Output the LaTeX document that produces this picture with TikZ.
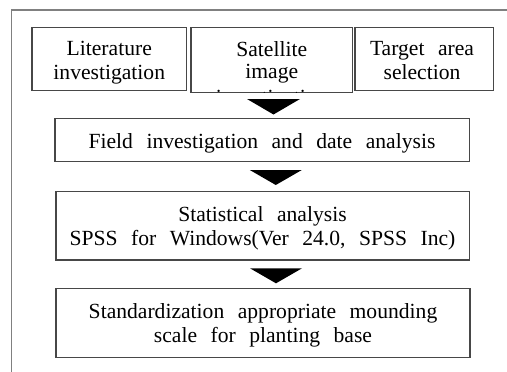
\documentclass[tikz,border=0pt]{standalone}
\usepackage{fontspec}
\setmainfont[WordSpace=2.5]{Liberation Serif}
\usetikzlibrary{calc}
\tikzset{
  box/.style={draw=black!72, line width=1.1pt, fill=white, inner sep=0pt},
  txt/.style={inner sep=0pt, anchor=base, font=\fontsize{21.6pt}{24pt}\selectfont},
  frameline/.style={draw=black!50, line width=1.2pt},
  tri/.style={fill=black}
}
\begin{document}
\begin{tikzpicture}[x=1pt, y=-1pt]
\useasboundingbox (0,0) rectangle (507,372);
\fill[white] (0,0) rectangle (507,372);
% outer frame (only top and left edges visible)
\coordinate (fbl) at (11.5,380);
\coordinate (ftl) at (11.5,10);
\coordinate (ftr) at (520,10);
\draw[frameline] (fbl) -- (ftl) -- (ftr);

% boxes
\node[box, minimum width=154.5pt, minimum height=63pt] (b1) at (109.25,59.2) {};
\node[box, minimum width=161.5pt, minimum height=65pt] (b2) at (271.75,60) {};
\node[box, minimum width=138.3pt, minimum height=63pt] (b3) at (424.15,59.2) {};
\node[box, minimum width=414.3pt, minimum height=43.4pt] (b4) at (262.15,140) {};
\node[box, minimum width=413.3pt, minimum height=68.3pt] (b5) at (262.65,225.85) {};
\node[box, minimum width=414pt, minimum height=69.2pt] (b6) at (263,322.9) {};

% texts
\node[txt] (t1a) at (109.25,55.7) {Literature};
\node[txt] (t1b) at (109.25,79) {investigation};
\begin{scope}
  \clip ($(b2.south west)+(0.6,-0.6)$) rectangle ($(b2.north east)+(-0.6,0.6)$);
  \node[txt] (t2a) at (271.75,56.7) {Satellite};
  \node[txt] (t2b) at (271.75,78.5) {image};
  \node[txt] (t2c) at (271.75,104.5) {investigation};
\end{scope}
\node[txt] (t3a) at (422,55.7) {Target area};
\node[txt] (t3b) at (422,79) {selection};
\node[txt] (t4) at (262,148.3) {Field investigation and date analysis};
\node[txt] (t5a) at (262.5,221) {Statistical analysis};
\node[txt] (t5b) at (262.5,245) {SPSS for Windows(Ver 24.0, SPSS Inc)};
\node[txt] (t6a) at (263,318) {Standardization appropriate mounding};
\node[txt] (t6b) at (263,342) {scale for planting base};

% arrows (filled triangles)
\coordinate (a1) at (273.5,99);
\coordinate (a2) at (275.8,170);
\coordinate (a3) at (276,268.3);
\fill[tri] (a1) ++(-26.5,0) -- ++(53,0) -- ++(-26.5,15.5) -- cycle;
\fill[tri] (a2) ++(-26,0) -- ++(52,0) -- ++(-26,15) -- cycle;
\fill[tri] (a3) ++(-26,0) -- ++(52,0) -- ++(-26,15) -- cycle;
\end{tikzpicture}
\end{document}
